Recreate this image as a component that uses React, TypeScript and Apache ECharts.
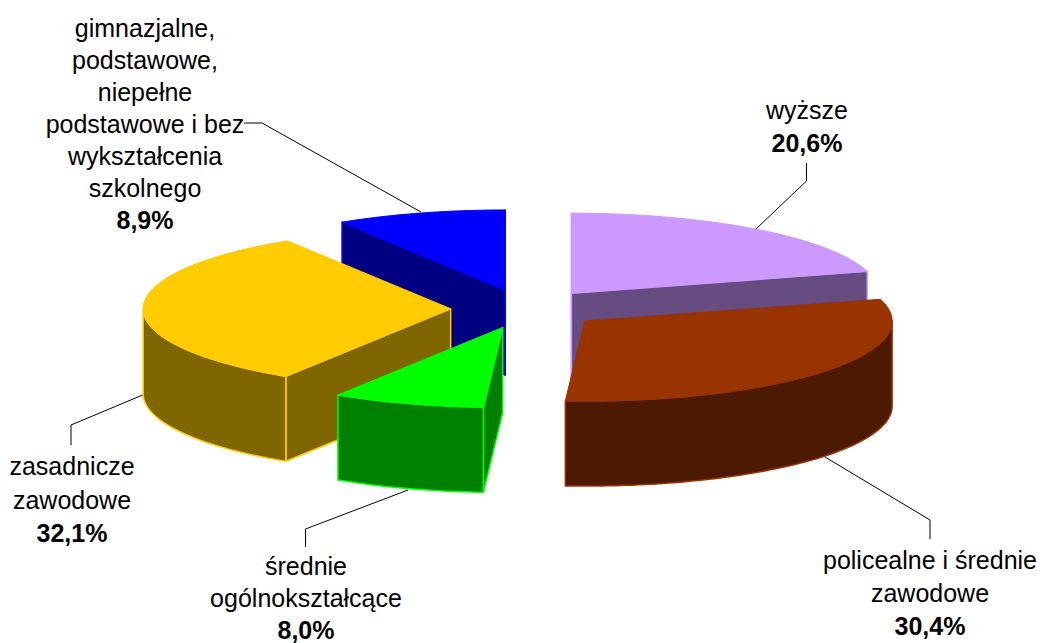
import React, { useEffect, useRef } from "react";
import * as echarts from "echarts";

// ---- data ----
const categories = [
  "wyższe",
  "policealne i średnie zawodowe",
  "średnie ogólnokształcące",
  "zasadnicze zawodowe",
  "gimnazjalne, podstawowe, niepełne podstawowe i bez wykształcenia szkolnego",
];
const shares = [20.6, 30.4, 8.0, 32.1, 8.9];
const labelLines = [
  ["wyższe"],
  ["policealne i średnie", "zawodowe"],
  ["średnie", "ogólnokształcące"],
  ["zasadnicze", "zawodowe"],
  ["gimnazjalne,", "podstawowe,", "niepełne", "podstawowe i bez", "wykształcenia", "szkolnego"],
];

// ---- styles & layout ----
const topColors = ["#CC99FF", "#993300", "#00FF00", "#FFCC00", "#0000FF"];
const wallColors = ["#664C80", "#4C1A00", "#008000", "#806600", "#000080"];
const drawRank = [0, 4, 3, 2, 1];
const CX = 526;
const CY = 308.8;
const RX = 307.5;
const RY = 80;
const DEPTH = 85;
const EXPLODE = 0.245;
const FONT = '"Liberation Sans", Arial, sans-serif';
const FONT_SIZE = 25;

const labelAnchors = [
  { x: 807, y: 110, step: 33 },
  { x: 930, y: 560, step: 33 },
  { x: 306, y: 566, step: 32.2 },
  { x: 72, y: 466, step: 33.5 },
  { x: 145, y: 28, step: 32 },
];
const leaders = [
  [[806.5, 163], [806.5, 181], [756, 229]],
  [[930, 539], [930, 520], [825, 457]],
  [[305.5, 547], [305.5, 529], [408, 490]],
  [[71, 445], [71, 425], [145, 394]],
  [[244, 123], [262, 123], [421, 212]],
];

const total = shares.reduce((a, b) => a + b, 0);
const toAngle = (v: number) => echarts.number.linearMap(v, [0, total], [0, 2 * Math.PI]);
const fmt = (v: number) => v.toFixed(1).replace(".", ",") + "%";

function sliceRange(i: number) {
  const before = shares.slice(0, i).reduce((a, b) => a + b, 0);
  return [toAngle(before), toAngle(before + shares[i])];
}

function arcPoints(ax: number, ay: number, a0: number, a1: number, dy = 0) {
  const pts: number[][] = [];
  const n = Math.max(2, Math.ceil(Math.abs(a1 - a0) / 0.02));
  for (let k = 0; k <= n; k++) {
    const a = a0 + ((a1 - a0) * k) / n;
    pts.push([ax + RX * Math.sin(a), ay - RY * Math.cos(a) + dy]);
  }
  return pts;
}

const renderSlice = (params: any) => {
  const i = params.dataIndex;
  const [a0, a1] = sliceRange(i);
  const mid = (a0 + a1) / 2;
  const ax = CX + EXPLODE * RX * Math.sin(mid);
  const ay = CY - EXPLODE * RY * Math.cos(mid);
  const base = (drawRank[i] + 1) * 10;
  const wallStyle = { fill: wallColors[i], stroke: topColors[i], lineWidth: 1.5, lineJoin: "round" };
  const topStyle = { fill: topColors[i], stroke: topColors[i], lineWidth: 1, lineJoin: "round" };
  const children: any[] = [];

  // flat cut walls: only those that face the viewer
  const cuts: number[] = [];
  if (Math.sin(a0) <= 1e-9) cuts.push(a0);
  if (Math.sin(a1) >= -1e-9) cuts.push(a1);
  cuts.forEach((a, k) => {
    const rx = ax + RX * Math.sin(a);
    const ry = ay - RY * Math.cos(a);
    children.push({
      type: "polygon",
      z2: base + k,
      shape: { points: [[ax, ay], [rx, ry], [rx, ry + DEPTH], [ax, ay + DEPTH]] },
      style: wallStyle,
    });
  });

  // curved wall: only the part that faces the viewer
  const f0 = Math.max(a0, Math.PI / 2);
  const f1 = Math.min(a1, (3 * Math.PI) / 2);
  if (f1 > f0) {
    const upper = arcPoints(ax, ay, f0, f1);
    const lower = arcPoints(ax, ay, f1, f0, DEPTH);
    children.push({
      type: "polygon",
      z2: base + 3,
      shape: { points: upper.concat(lower) },
      style: wallStyle,
    });
  }

  // top face
  children.push({
    type: "polygon",
    z2: base + 4,
    shape: { points: [[ax, ay] as number[]].concat(arcPoints(ax, ay, a0, a1)) },
    style: topStyle,
  });

  return { type: "group", children };
};

export default function App() {
  const ref = useRef<HTMLDivElement>(null);
  useEffect(() => {
    document.body.style.margin = "0";
    const chart = echarts.init(ref.current!, null, { renderer: "svg" });

    const graphics: any[] = [];
    leaders.forEach((pts) => {
      graphics.push({
        type: "polyline",
        z: 1,
        silent: true,
        shape: { points: pts },
        style: { stroke: "#000", lineWidth: 1, fill: "none" },
      });
    });
    labelLines.forEach((lines, i) => {
      const a = labelAnchors[i];
      lines.forEach((t, k) => {
        graphics.push({
          type: "text",
          silent: true,
          x: a.x,
          y: a.y + k * a.step,
          style: {
            text: t,
            font: `${FONT_SIZE}px ${FONT}`,
            fill: "#000",
            textAlign: "center",
            textVerticalAlign: "middle",
          },
        });
      });
      graphics.push({
        type: "text",
        silent: true,
        x: a.x,
        y: a.y + lines.length * a.step,
        style: {
          text: fmt(shares[i]),
          font: `bold ${FONT_SIZE}px ${FONT}`,
          fill: "#000",
          textAlign: "center",
          textVerticalAlign: "middle",
        },
      });
    });

    chart.setOption({
      animation: false,
      backgroundColor: "#fff",
      graphic: { elements: graphics },
      series: [
        {
          type: "custom",
          coordinateSystem: "none",
          silent: true,
          z: 3,
          renderItem: renderSlice,
          data: categories.map((name, i) => ({ name, value: [shares[i]] })),
        },
      ],
    });
    return () => chart.dispose();
  }, []);
  return <div ref={ref} style={{ width: 1042, height: 643 }} />;
}
